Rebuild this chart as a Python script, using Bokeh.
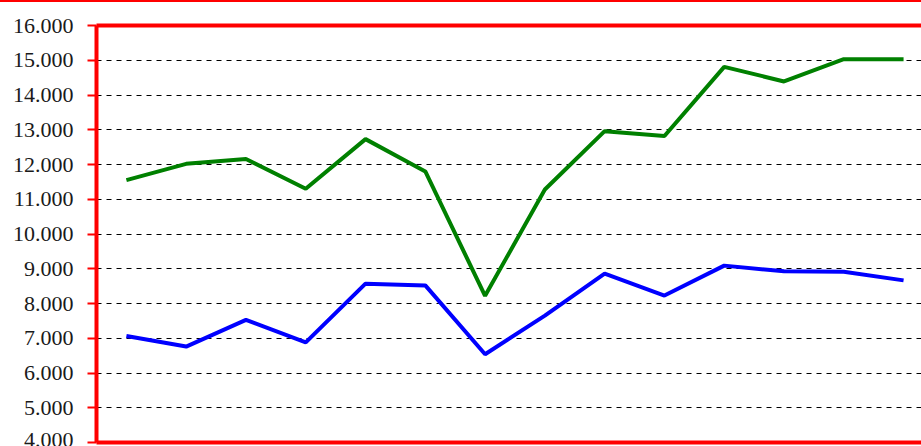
from bokeh.plotting import figure
from bokeh.models import FixedTicker, Range1d, LinearAxis
from bokeh.embed import file_html
from bokeh.resources import INLINE

# Data
x_index = list(range(14))
green_values = [11550, 12020, 12160, 11300, 12730, 11800, 8220, 11280,
                12960, 12820, 14810, 14390, 15030, 15030]
blue_values = [7065, 6760, 7530, 6880, 8570, 8520, 6540, 7650,
               8860, 8230, 9090, 8925, 8915, 8665]
y_ticks = [4000, 5000, 6000, 7000, 8000, 9000, 10000, 11000,
           12000, 13000, 14000, 15000, 16000]
y_tick_labels = ["4.000", "5.000", "6.000", "7.000", "8.000", "9.000", "10.000",
                 "11.000", "12.000", "13.000", "14.000", "15.000", "16.000"]

p = figure(width=921, height=446, output_backend="svg", toolbar_location=None,
           x_range=Range1d(-0.5, 13.30), y_range=Range1d(4000, 16000),
           min_border_left=96, min_border_right=0, min_border_top=23,
           min_border_bottom=6, x_axis_location=None, y_axis_location=None)
p.outline_line_color = None
p.background_fill_color = "white"
p.border_fill_color = "white"
p.styles = {"border-top": "2px solid #ff0000", "box-sizing": "border-box"}

# left axis (red frame side with ticks)
yax = LinearAxis(ticker=FixedTicker(ticks=y_ticks))
yax.major_label_overrides = {t: l for t, l in zip(y_ticks, y_tick_labels)}
yax.axis_line_color = "#ff0000"
yax.axis_line_width = 4
yax.major_tick_line_color = "#ff0000"
yax.major_tick_line_width = 2
yax.major_tick_out = 9
yax.major_tick_in = 0
yax.minor_tick_line_color = None
yax.major_label_standoff = 14
yax.major_label_text_font = "Liberation Serif, serif"
yax.major_label_text_font_size = "22px"
yax.major_label_text_color = "#1a1a1a"
p.add_layout(yax, "left")

# bottom and top red frame lines
for loc in ("below", "above"):
    ax = LinearAxis(ticker=FixedTicker(ticks=[]))
    ax.axis_line_color = "#ff0000"
    ax.axis_line_width = 4
    ax.major_tick_line_color = None
    ax.minor_tick_line_color = None
    ax.major_label_text_font_size = "0px"
    p.add_layout(ax, loc)

# grid
p.xgrid.visible = False
p.ygrid.ticker = FixedTicker(ticks=y_ticks[1:-1])
p.ygrid.grid_line_color = "#000000"
p.ygrid.grid_line_width = 1.2
p.ygrid.grid_line_dash = "5 5"

p.line(x_index, green_values, line_color="#008000", line_width=4)
p.line(x_index, blue_values, line_color="#0000ff", line_width=4)

open("out.html", "w").write(file_html(p, INLINE))
